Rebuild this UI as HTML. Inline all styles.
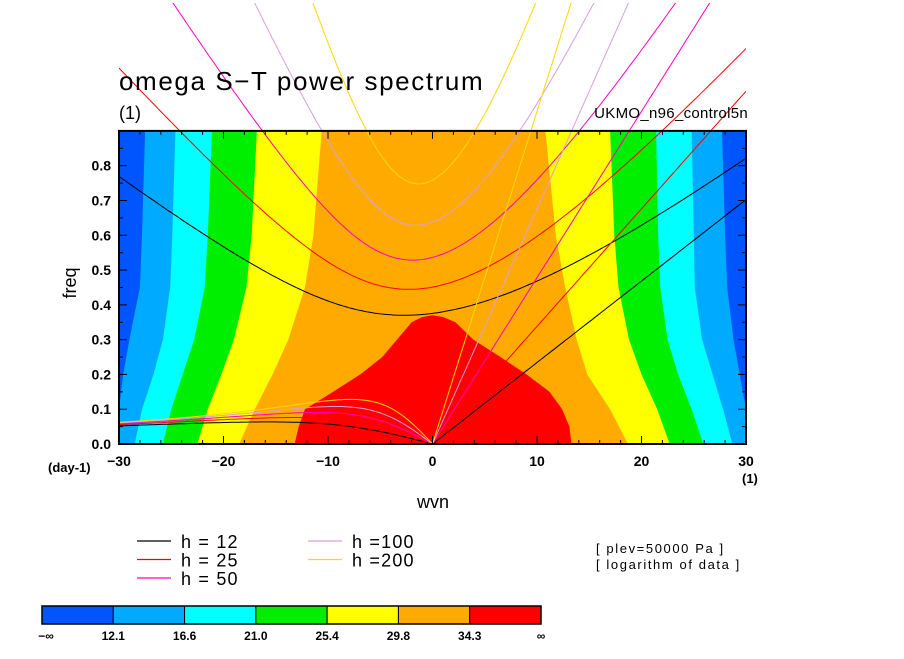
<!DOCTYPE html>
<html><head><meta charset="utf-8"><style>
body{margin:0;background:#fff;width:904px;height:654px;overflow:hidden;font-family:"Liberation Sans",sans-serif}
svg text{font-family:"Liberation Sans",sans-serif}
</style></head><body>
<svg id="chart" width="904" height="654" viewBox="0 0 904 654">
<defs>
<clipPath id="plotclip"><rect x="119" y="131" width="627" height="313"/></clipPath>
<clipPath id="curveclip"><rect x="119" y="3" width="627" height="441"/></clipPath>
</defs>
<g id="fills" clip-path="url(#plotclip)"></g>
<g id="curves" clip-path="url(#curveclip)"></g>
<g id="axes"></g>
<text x="119" y="90" font-size="26" letter-spacing="1.6">omega S−T power spectrum</text>
<text x="119" y="119" font-size="18">(1)</text>
<text x="748" y="118" font-size="15" text-anchor="end" letter-spacing="0.3">UKMO_n96_control5n</text>
<text x="433" y="508" font-size="18" text-anchor="middle">wvn</text>
<text x="0" y="0" font-size="18" text-anchor="middle" transform="translate(76,283) rotate(-90)">freq</text>
<text x="48" y="472" font-size="13" font-weight="bold">(day-1)</text>
<text x="742" y="483" font-size="13" font-weight="bold">(1)</text>
<g id="legend"></g>
<text x="596" y="553" font-size="13" letter-spacing="1.6">[ plev=50000 Pa ]</text>
<text x="596" y="569" font-size="13" letter-spacing="1.6">[ logarithm of data ]</text>
<g id="cbar"></g>
</svg>
<script>
const fLevels=[0,0.1,0.2,0.3,0.45,0.6,0.9];
const bandLeft=[
 [-30,-30,-29.6,-29.0,-28.0,-27.8,-27.5],
 [-28.5,-27.8,-26.7,-25.8,-25.1,-24.9,-24.6],
 [-25.8,-25.0,-23.9,-22.8,-21.8,-21.5,-21.1],
 [-22.5,-21.5,-20.2,-19.0,-17.8,-17.3,-16.8],
 [-18.5,-17.0,-15.3,-13.8,-12.2,-11.4,-10.6]];
const bandRight=[
 [30,30,29.4,28.8,28.2,28.0,27.7],
 [28.7,27.8,26.8,25.8,25.1,25.0,24.8],
 [25.9,24.8,23.5,22.5,21.8,21.6,21.4],
 [22.7,21.5,20.0,18.8,17.8,17.4,17.0],
 [18.7,17.0,14.8,13.8,12.7,11.8,10.8]];
const redK=[-13.2,-12.8,-12.2,-9.5,-6.9,-4.8,-3.4,-2.0,-1,0,1,2.2,3.9,6.5,9.0,11.2,12.4,13.1,13.3];
const redF=[0,0.05,0.1,0.15,0.2,0.25,0.3,0.35,0.365,0.37,0.365,0.35,0.3,0.25,0.2,0.15,0.1,0.05,0];
const bandColors=['#0055ff','#00aaff','#00ffff','#00ee00','#ffff00','#ffaa00','#ff0000'];
const cbarLabels=['−∞','12.1','16.6','21.0','25.4','29.8','34.3','∞'];
const depths=[12,25,50,100,200];
const depthLabels=['h = 12','h = 25','h = 50','h =100','h =200'];
const depthColors=['#000000','#ff0000','#ff00c0','#d8a0d8','#ffd700'];
const xTicks=[-30,-20,-10,0,10,20,30];
const yTicks=[0,0.1,0.2,0.3,0.4,0.5,0.6,0.7,0.8];

const NS='http://www.w3.org/2000/svg';
const X0=119,X1=746,Y0=444,Y1=130.9;
const sx=k=>X0+(k+30)/60*(X1-X0);
const sy=f=>Y0-f/0.9*(Y0-Y1);
function mk(tag,attrs,parent){const e=document.createElementNS(NS,tag);for(const a in attrs)e.setAttribute(a,attrs[a]);parent.appendChild(e);return e;}

const fills=document.getElementById('fills');
let bg=mk('rect',{x:X0,y:Y1,width:X1-X0,height:Y0-Y1,fill:bandColors[0]},fills);


for(let b=0;b<bandLeft.length;b++){
  let pts=[];
  for(let i=0;i<fLevels.length;i++)pts.push(sx(bandLeft[b][i]).toFixed(1)+','+sy(fLevels[i]).toFixed(1));
  pts.push(sx(bandLeft[b][fLevels.length-1]).toFixed(1)+','+(Y1-10));
  pts.push(sx(bandRight[b][fLevels.length-1]).toFixed(1)+','+(Y1-10));
  for(let i=fLevels.length-1;i>=0;i--)pts.push(sx(bandRight[b][i]).toFixed(1)+','+sy(fLevels[i]).toFixed(1));
  pts.push(sx(bandRight[b][0]).toFixed(1)+','+(Y0+10));
  pts.push(sx(bandLeft[b][0]).toFixed(1)+','+(Y0+10));
  const p=mk('polygon',{points:pts.join(' '),fill:bandColors[b+1]},fills);
  
  
}
{
  const pts=redK.map((k,i)=>sx(k).toFixed(1)+','+sy(redF[i]).toFixed(1));
  pts.push(sx(13.3)+','+(Y0+10));pts.push(sx(-13.2)+','+(Y0+10));
  const p=mk('polygon',{points:pts.join(' '),fill:bandColors[6]},fills);
  
  
}

const g=9.81,beta=2.29e-11,a=6.371e6,cpd=86400/(2*Math.PI);
function roots(s,c){
  const k=s/a, A=c*c*k*k+3*beta*c, B=beta*c*c*k;
  const m=2*Math.sqrt(A/3);
  let arg=(3*B/(2*A))*Math.sqrt(3/A);arg=Math.max(-1,Math.min(1,arg));
  const th=Math.acos(arg)/3;
  return [0,1,2].map(j=>m*Math.cos(th-2*Math.PI*j/3)*cpd).sort((u,v)=>u-v);
}
const curves=document.getElementById('curves');
depths.forEach((h,i)=>{
  const c=Math.sqrt(g*h);
  let ig=[],ross=[],kel=[];
  for(let s=-30;s<=30.001;s+=0.25){
    const r=roots(s,c);
    ig.push(sx(s).toFixed(1)+','+sy(r[2]).toFixed(1));
    if(s<=0){const pos=r.filter(v=>v>=-1e-9);ross.push(sx(s).toFixed(1)+','+sy(s===0?0:pos[0]).toFixed(1));}
    if(s>=0)kel.push(sx(s).toFixed(1)+','+sy(c*s/a*cpd).toFixed(1));
  }
  [['ig',ig],['rossby',ross],['kelvin',kel]].forEach(([nm,pts])=>{
    const pl=mk('polyline',{points:pts.join(' '),fill:'none',stroke:depthColors[i],'stroke-width':1},curves);
    
    
  });
});

const ax=document.getElementById('axes');
for(let k=-30;k<=30;k+=2){
  const major=(k%10===0),L=major?8:4;
  mk('line',{x1:sx(k),x2:sx(k),y1:Y0,y2:Y0-L,stroke:'#000'},ax);
  mk('line',{x1:sx(k),x2:sx(k),y1:Y1,y2:Y1+L,stroke:'#000'},ax);
}
for(let j=0;j<=17;j++){
  const f=j*0.05,major=(j%2===0),L=major?8:4;
  mk('line',{x1:X0,x2:X0+L,y1:sy(f),y2:sy(f),stroke:'#000'},ax);
  mk('line',{x1:X1,x2:X1-L,y1:sy(f),y2:sy(f),stroke:'#000'},ax);
}
mk('rect',{x:X0,y:Y1,width:X1-X0,height:Y0-Y1,fill:'none',stroke:'#000','stroke-width':2},ax);
xTicks.forEach(k=>{
  const t=mk('text',{x:sx(k),y:Y0+22,'font-size':14,'font-weight':'bold','text-anchor':'middle'},ax);
  t.textContent=(k<0?'−':'')+Math.abs(k);
  
  
});
yTicks.forEach(f=>{
  const t=mk('text',{x:X0-8,y:sy(f)+5,'font-size':14,'font-weight':'bold','text-anchor':'end'},ax);
  t.textContent=f.toFixed(1);
  
  
});

const lg=document.getElementById('legend');
depths.forEach((h,i)=>{
  const col=i<3?0:1,row=i<3?i:i-3;
  const lx=col?308:137,ly=541+row*18.5;
  const e=mk('g',{},lg);
  
  
  mk('line',{x1:lx,x2:lx+34,y1:ly,y2:ly,stroke:depthColors[i],'stroke-width':1.3},e);
  const t=mk('text',{x:lx+44,y:ly+7,'font-size':18,'letter-spacing':1.2},e);
  t.textContent=depthLabels[i];
});

const cb=document.getElementById('cbar');
const cbx=42,cbw=(541-42)/7;
bandColors.forEach((c,i)=>{
  const r=mk('rect',{x:cbx+i*cbw,y:606,width:cbw,height:18,fill:c,stroke:'#000','stroke-width':1},cb);
  
  
});
mk('rect',{x:cbx,y:606,width:499,height:18,fill:'none',stroke:'#000','stroke-width':1.5},cb);
cbarLabels.forEach((l,i)=>{
  const t=mk('text',{x:cbx+i*cbw+(i===0?4:0),y:640,'font-size':12,'font-weight':'bold','text-anchor':'middle'},cb);
  t.textContent=l;
  
  
});
</script>
</body></html>
